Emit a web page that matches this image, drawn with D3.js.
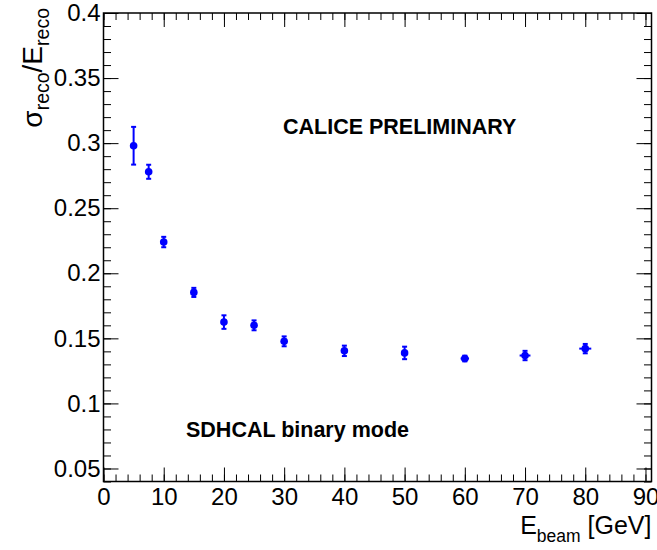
<!DOCTYPE html>
<meta charset="utf-8">
<head>
<style type='text/css'>
  body {
    margin: 0;
    background: #fff;
  }
  text {
    font-family: 'Liberation Sans', Arial, Helvetica, sans-serif;
    fill: #000;
  }
  .axis .domain {
    display: none;
  }
  .axis line {
    stroke: #000;
    stroke-width: 1;
  }
  .axis text {
    font-size: 24px;
  }
  .frame {
    fill: none;
    stroke: #000;
    stroke-width: 1.5;
  }
  .err {
    stroke: #0000ff;
    stroke-width: 2;
  }
  .label {
    font-size: 21.5px;
    font-weight: bold;
  }
</style>
</head>
<body>
<svg id="chart" width="657" height="550"></svg>
<script src="https://d3js.org/d3.v7.min.js"></script>
<script>
// energy resolution points
var energy     = [5, 7.5, 10, 15, 20, 25, 30, 40, 50, 60, 70, 80];
var resolution = [0.298, 0.278, 0.224, 0.1853, 0.1625, 0.160, 0.1477, 0.1404, 0.1388, 0.1345, 0.1368, 0.1421];
var resErr     = [0.0145, 0.0054, 0.004, 0.0035, 0.0052, 0.0038, 0.0038, 0.004, 0.0048, 0.0022, 0.0036, 0.0036];
var energyErr  = [0, 0, 0, 0, 0, 0, 0, 0, 0, 0.7, 0.9, 1.0];

var xTicks = [0, 10, 20, 30, 40, 50, 60, 70, 80, 90];
var yTicks = [0.05, 0.1, 0.15, 0.2, 0.25, 0.3, 0.35, 0.4];

var svg = d3.select("#chart"),
    margin = {top: 13, right: 5.5, bottom: 68.5, left: 103.5},
    width = 657 - margin.left - margin.right,
    height = 550 - margin.top - margin.bottom,
    g = svg.append("g").attr("transform", "translate(" + margin.left + "," + margin.top + ")");

var x = d3.scaleLinear().domain([0, 91]).range([0, width]);
var y = d3.scaleLinear().domain([0.04, 0.4]).range([height, 0]);

var data = energy.map(function(e, i) {
  return {e: e, r: resolution[i], dr: resErr[i], de: energyErr[i]};
});

var xMinor = d3.range(0, 91, 2),
    yMinor = d3.range(0.04, 0.4001, 0.01);

// major + minor ticks on all four sides, pointing inward
g.append("g").attr("class", "axis")
    .attr("transform", "translate(0," + height + ")")
    .call(d3.axisBottom(x).tickValues(xMinor).tickSize(-7).tickFormat(""));
g.append("g").attr("class", "axis")
    .attr("transform", "translate(0," + height + ")")
    .call(d3.axisBottom(x).tickValues(xTicks).tickSize(-14).tickPadding(6).tickFormat(d3.format("d")));

g.append("g").attr("class", "axis")
    .call(d3.axisTop(x).tickValues(xMinor).tickSize(-7).tickFormat(""));
g.append("g").attr("class", "axis")
    .call(d3.axisTop(x).tickValues(xTicks).tickSize(-14).tickFormat(""));

g.append("g").attr("class", "axis")
    .call(d3.axisLeft(y).tickValues(yMinor).tickSize(-7.5).tickFormat(""));
g.append("g").attr("class", "axis")
    .call(d3.axisLeft(y).tickValues(yTicks).tickSize(-15).tickPadding(3)
      .tickFormat(function(d) { return String(+d.toFixed(2)); }));

g.append("g").attr("class", "axis")
    .attr("transform", "translate(" + width + ",0)")
    .call(d3.axisRight(y).tickValues(yMinor).tickSize(-7.5).tickFormat(""));
g.append("g").attr("class", "axis")
    .attr("transform", "translate(" + width + ",0)")
    .call(d3.axisRight(y).tickValues(yTicks).tickSize(-15).tickFormat(""));

g.append("rect")
    .attr("class", "frame")
    .attr("width", width)
    .attr("height", height);

// error bars
var pts = g.append("g").attr("class", "points");
var cap = 2.5;

pts.selectAll("line.vbar")
    .data(data)
  .enter().append("line")
    .attr("class", "err vbar")
    .attr("x1", function(d) { return x(d.e); })
    .attr("x2", function(d) { return x(d.e); })
    .attr("y1", function(d) { return y(d.r - d.dr); })
    .attr("y2", function(d) { return y(d.r + d.dr); });

pts.selectAll("line.capLo")
    .data(data)
  .enter().append("line")
    .attr("class", "err capLo")
    .attr("x1", function(d) { return x(d.e) - cap; })
    .attr("x2", function(d) { return x(d.e) + cap; })
    .attr("y1", function(d) { return y(d.r - d.dr); })
    .attr("y2", function(d) { return y(d.r - d.dr); });

pts.selectAll("line.capHi")
    .data(data)
  .enter().append("line")
    .attr("class", "err capHi")
    .attr("x1", function(d) { return x(d.e) - cap; })
    .attr("x2", function(d) { return x(d.e) + cap; })
    .attr("y1", function(d) { return y(d.r + d.dr); })
    .attr("y2", function(d) { return y(d.r + d.dr); });

pts.selectAll("line.hbar")
    .data(data.filter(function(d) { return d.de > 0; }))
  .enter().append("line")
    .attr("class", "err hbar")
    .attr("x1", function(d) { return x(d.e - d.de); })
    .attr("x2", function(d) { return x(d.e + d.de); })
    .attr("y1", function(d) { return y(d.r); })
    .attr("y2", function(d) { return y(d.r); });

pts.selectAll("circle")
    .data(data)
  .enter().append("circle")
    .attr("cx", function(d) { return x(d.e); })
    .attr("cy", function(d) { return y(d.r); })
    .attr("r", 3.8)
    .attr("fill", "#0000ff");

// axis titles
var xTitle = svg.append("text")
    .attr("x", margin.left + width)
    .attr("y", 534)
    .attr("text-anchor", "end")
    .style("font-size", "25px");
xTitle.append("tspan").text("E");
xTitle.append("tspan").attr("dy", 8).style("font-size", "17.5px").text("beam");
xTitle.append("tspan").attr("dy", -8).text(" [GeV]");

var yTitle = svg.append("text")
    .attr("transform", "translate(42," + (margin.top - 5) + ") rotate(-90)")
    .attr("text-anchor", "end")
    .style("font-size", "28px");
yTitle.append("tspan").text("σ");
yTitle.append("tspan").attr("dy", 7).style("font-size", "19.5px").text("reco");
yTitle.append("tspan").attr("dy", -7).text("/E");
yTitle.append("tspan").attr("dy", 7).style("font-size", "19.5px").text("reco");

// labels
svg.append("text")
    .attr("class", "label")
    .attr("x", 283)
    .attr("y", 134)
    .text("CALICE PRELIMINARY");

svg.append("text")
    .attr("class", "label")
    .attr("x", 186)
    .attr("y", 437)
    .text("SDHCAL binary mode");
</script>
</body>
